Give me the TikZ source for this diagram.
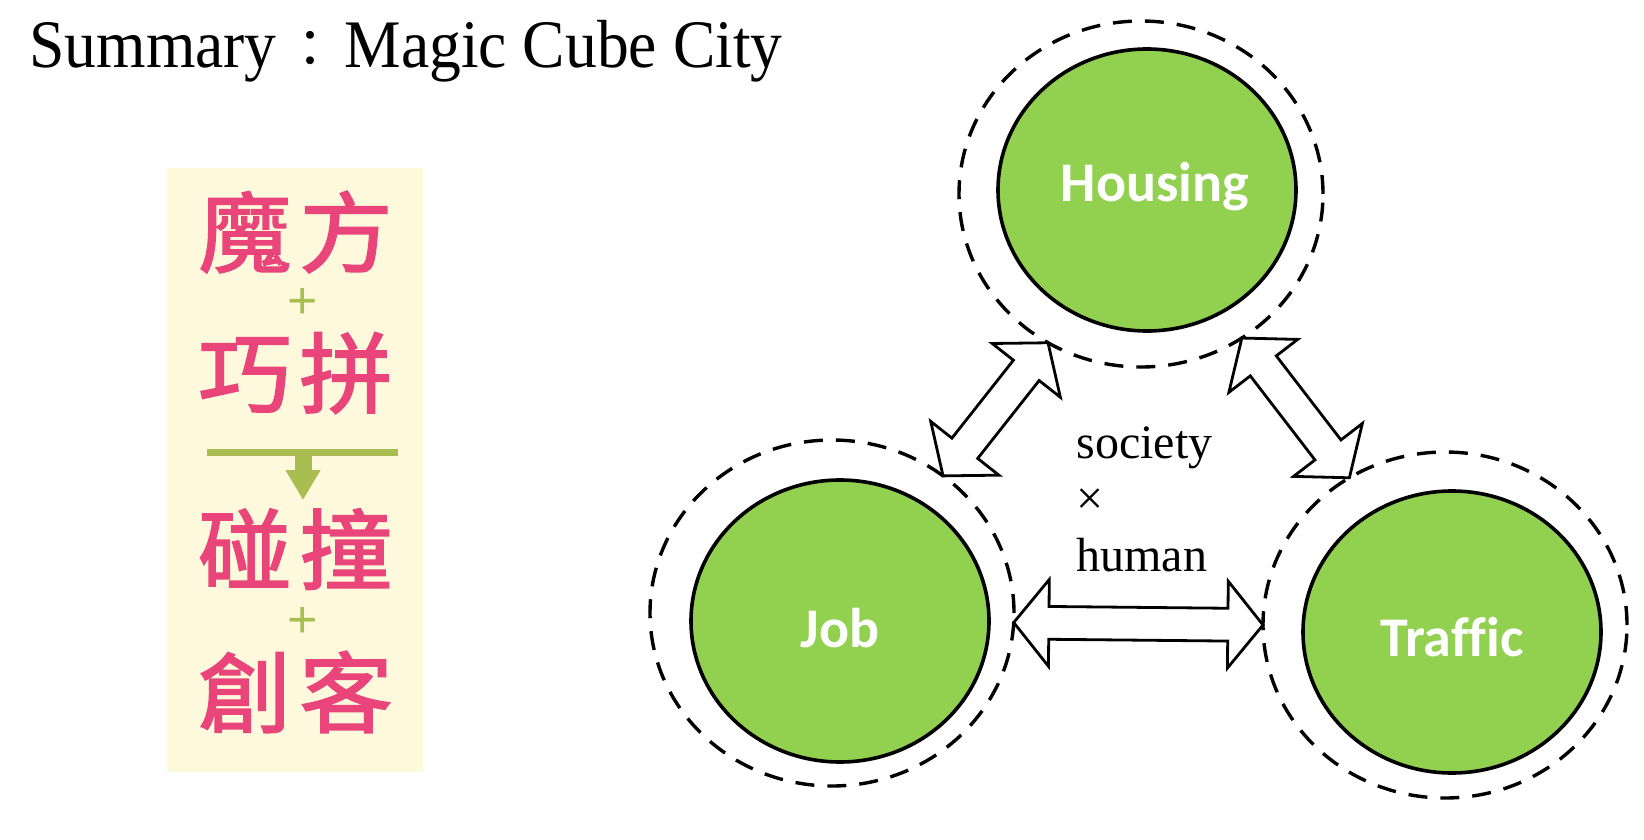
\documentclass[tikz,border=0pt]{standalone}
\usepackage{fontspec}
\usepackage{tikz}
\usepackage{xcolor}
\usetikzlibrary{shapes.geometric, shapes.arrows, arrows.meta, calc}
\setmainfont{Liberation Serif}
\newfontfamily\titlefont[FakeStretch=0.935]{Liberation Serif}
\newfontfamily\cjk{Noto Sans CJK TC}
\newfontfamily\cjkwide[FakeStretch=1.06, FakeBold=2]{Noto Sans CJK TC}
\newfontfamily\labelfont[Ligatures=CommonOff]{Carlito}
\newfontfamily\plusfont{Liberation Sans}
\definecolor{leafgreen}{HTML}{92D050}
\definecolor{rosepink}{HTML}{E9457A}
\definecolor{olive}{HTML}{A9BE50}
\definecolor{cream}{HTML}{FEF9DC}

\begin{document}
\begin{tikzpicture}[x=0.5pt, y=-0.5pt,
  topic/.style={ellipse, draw=black, line width=1.8pt, fill=leafgreen, minimum width=149pt, minimum height=141pt, inner sep=0pt, font=\labelfont\bfseries\fontsize{28}{32}\selectfont, text=white},
  ring/.style={ellipse, draw=black, line width=1.7pt, dash pattern=on 9.5pt off 6.5pt, minimum width=182pt, minimum height=173pt, inner sep=0pt, outer sep=0pt},
  linkarrow/.style={double arrow, draw=black, line width=1.4pt, fill=white, inner xsep=0pt, inner ysep=7.5pt, double arrow head extend=13.5pt, double arrow tip angle=102},
  link/.style={to path={let \p1=(\tikztostart), \p2=(\tikztotarget), \n1={atan2(\y2-\y1,\x2-\x1)}, \n2={veclen(\x2-\x1,\y2-\y1)} in ($(\p1)!0.5!(\p2)$) node[linkarrow, rotate=\n1, minimum height=\n2, name=#1] {}}},
  word/.style={font=\cjkwide\fontsize{44}{50}\selectfont, text=rosepink, inner sep=0pt},
  plus/.style={font=\plusfont\fontsize{26}{30}\selectfont, text=olive, inner sep=0pt},
]
\useasboundingbox (0,0) rectangle (1644,840);

\node[anchor=base west, inner sep=0pt, font=\titlefont\fontsize{34}{40}\selectfont] (title) at (29,68) {Summary{\cjk\fontsize{26}{30}\selectfont\hspace{4pt}：\hspace{4pt}}Magic Cube City};

\node[fill=cream, minimum width=128pt, minimum height=302pt, inner sep=0pt] (panel) at (295,470) {};
\node[word] (mofang) at (295.5,232) {魔\hspace{4pt}方};
\node[plus] (plusA) at (303,303) {+};
\node[word] (qiaopin) at (295.5,373) {巧\hspace{4pt}拼};
\coordinate (barL) at (207,452);
\coordinate (barR) at (398,452);
\draw[olive, line width=3.5pt] (barL) -- (barR);
\coordinate (dropA) at (303,452);
\coordinate (dropB) at (303,500);
\draw[olive, line width=8.5pt, -{Triangle[length=15pt, width=16.5pt]}] (dropA) -- (dropB);
\node[word] (pengzhuang) at (295.5,549) {碰\hspace{4pt}撞};
\node[plus] (plusB) at (303,622) {+};
\node[word] (chuangke) at (295.5,692) {創\hspace{4pt}客};

\node[ring] (housingring) at (1141,194) {};
\node[topic, text height=18pt, text depth=7pt] (housing) at (1147,190) {\hspace{8pt}Housing};
\node[ring] (jobring) at (832,613) {};
\node[topic, text height=26pt, text depth=0pt] (job) at (840,621) {Job};
\node[ring] (trafficring) at (1445,625) {};
\node[topic, text height=24pt, text depth=0pt] (traffic) at (1452,632) {Traffic};

\node[align=left, anchor=west, inner sep=0pt, font=\fontsize{24}{28.25}\selectfont] (theme) at (1076,499) {society\\×\\human};

\path (jobring.51) to[link=jobhousing] (housingring.238);
\path (housingring.-55) to[link=housingtraffic] (trafficring.123);
\path (jobring.-3) to[link=jobtraffic] (trafficring.180);
\end{tikzpicture}
\end{document}
